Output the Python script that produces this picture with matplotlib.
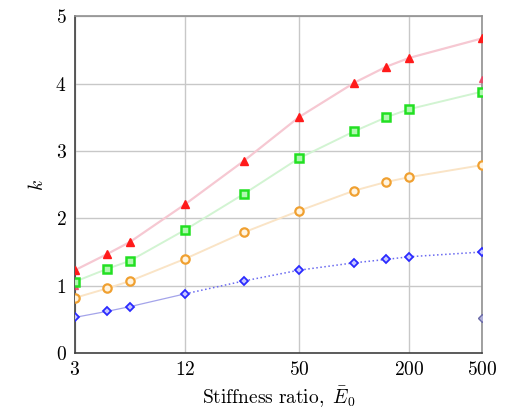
import numpy as np
import matplotlib
matplotlib.use('Agg')
import matplotlib.pyplot as plt
from matplotlib.ticker import FixedLocator, NullLocator

# --- DATA ---
stiffness = [3, 4.5, 6, 12, 25, 50, 100, 150, 200, 500]
k_red = [1.23, 1.47, 1.65, 2.21, 2.85, 3.50, 4.01, 4.25, 4.38, 4.67]
k_green = [1.06, 1.25, 1.37, 1.83, 2.36, 2.89, 3.29, 3.50, 3.62, 3.88]
k_orange = [0.82, 0.96, 1.07, 1.40, 1.79, 2.11, 2.41, 2.54, 2.61, 2.79]
k_blue = [0.53, 0.62, 0.69, 0.88, 1.07, 1.23, 1.34, 1.39, 1.43, 1.50]

# extra points at the ends of the range
extra_x_red = [3, 500]
extra_k_red = [1.00, 4.06]
extra_x_blue = [500]
extra_k_blue = [0.52]

xticks = [3, 12, 50, 200, 500]
yticks = [0, 1, 2, 3, 4, 5]

# --- STYLE ---
plt.rcParams['font.family'] = 'serif'
plt.rcParams['font.serif'] = ['DejaVu Serif']
plt.rcParams['mathtext.fontset'] = 'cm'

RED = '#ff1a1a'
GREEN = '#22e022'
ORANGE = '#f0a030'
BLUE = '#2a2aff'

fig = plt.figure(figsize=(5.06, 4.13), dpi=100)
ax = fig.add_axes([0.148, 0.145, 0.805, 0.816])

# connecting lines (faint)
ax.plot(stiffness, k_red, color='#f6c8d2', lw=1.6, zorder=2)
ax.plot(stiffness, k_green, color='#d2f4d2', lw=1.4, zorder=2)
ax.plot(stiffness, k_orange, color='#fae4c6', lw=1.4, zorder=2)
ax.plot(stiffness[:4], k_blue[:4], color='#a4a4ea', lw=0.9, zorder=2)
ax.plot(stiffness[3:], k_blue[3:], color='#6a6af0', lw=1.1, ls=':', zorder=2)

# markers
ax.plot(stiffness, k_red, ls='none', marker='^', ms=6, color=RED, zorder=4)
ax.plot(extra_x_red, extra_k_red, ls='none', marker='^', ms=5, color='#f04060', alpha=0.8, zorder=4)
ax.plot(stiffness, k_green, ls='none', marker='s', ms=6, mfc='#b0f8b0', mec=GREEN, mew=1.8, zorder=4)
ax.plot(stiffness, k_orange, ls='none', marker='o', ms=6, mfc='#fff4e0', mec=ORANGE, mew=1.6, zorder=4)
ax.plot(stiffness, k_blue, ls='none', marker='D', ms=4.5, mfc='#c8c8ff', mec=BLUE, mew=1.3, zorder=4)
ax.plot(extra_x_blue, extra_k_blue, ls='none', marker='D', ms=4, mfc='#b0b0d8', mec='#6a6aa8', mew=1.0, zorder=4)

# axes
ax.set_xscale('log')
ax.set_xlim(3, 500)
ax.set_ylim(0, 5)
ax.xaxis.set_major_locator(FixedLocator(xticks))
ax.xaxis.set_minor_locator(NullLocator())
ax.set_xticklabels([f'${t}$' for t in xticks], fontsize=14)
ax.set_yticks(yticks)
ax.set_yticklabels([f'${t}$' for t in yticks], fontsize=14)
ax.tick_params(length=0, pad=6)

ax.grid(True, color='#c8c8c8', lw=1.0)
ax.set_axisbelow(True)
for s in ['top', 'right']:
    ax.spines[s].set_color('#909090')
    ax.spines[s].set_linewidth(1.2)
for s in ['left', 'bottom']:
    ax.spines[s].set_color('#404040')
    ax.spines[s].set_linewidth(1.2)

ax.set_xlabel(r'$\mathrm{Stiffness\ ratio,}\ \bar{E}_0$', fontsize=14, labelpad=4)
ax.set_ylabel(r'$k$', fontsize=14, labelpad=6)

fig.savefig('out.png', dpi=100)
